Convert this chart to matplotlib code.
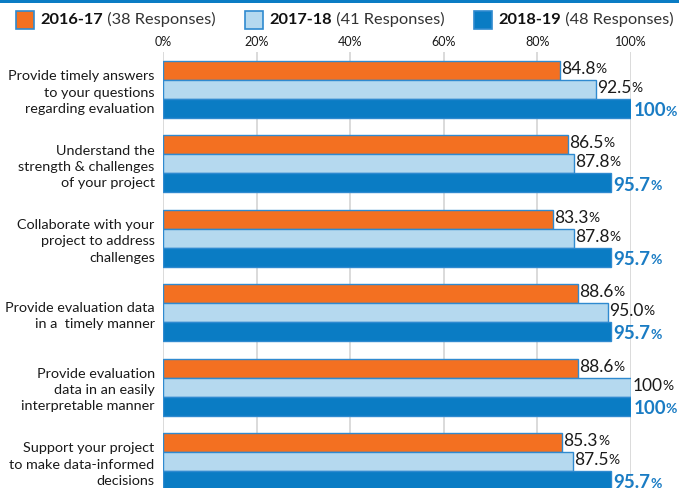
import matplotlib
matplotlib.use("Agg")
import matplotlib.pyplot as plt
from matplotlib.patches import Rectangle
import numpy as np

plt.rcParams['font.family'] = ['Lato', 'DejaVu Sans']

categories = [
    "Provide timely answers\nto your questions\nregarding evaluation",
    "Understand the\nstrength & challenges\nof your project",
    "Collaborate with your\nproject to address\nchallenges",
    "Provide evaluation data\nin a  timely manner",
    "Provide evaluation\ndata in an easily\ninterpretable manner",
    "Support your project\nto make data-informed\ndecisions",
]
years = ["2016-17", "2017-18", "2018-19"]
responses = ["(38 Responses)", "(41 Responses)", "(48 Responses)"]
vals_1617 = [84.8, 86.5, 83.3, 88.6, 88.6, 85.3]
vals_1718 = [92.5, 87.8, 87.8, 95.0, 100, 87.5]
vals_1819 = [100, 95.7, 95.7, 95.7, 100, 95.7]
xticks = [0, 20, 40, 60, 80, 100]

ORANGE = "#f37021"
LIGHT = "#b5d9ef"
DARK = "#0a7cc4"
EDGE = "#2f8ad0"
TEXT = "#1a1a1a"

W, H = 679, 488
fig = plt.figure(figsize=(W / 100, H / 100), dpi=100)

# top rule
fig.add_artist(Rectangle((0, 1 - 3 / H), 1, 3 / H, transform=fig.transFigure,
                         color=DARK, lw=0))

ax = fig.add_axes([163 / W, 0, (631 - 163) / W, (488 - 52) / H])
ax.set_xlim(0, 100)
ax.set_ylim(5.356, -0.504)

bh = 0.256
y = np.arange(len(categories))
series = [vals_1617, vals_1718, vals_1819]
fills = [ORANGE, LIGHT, DARK]
for k, (vals, c) in enumerate(zip(series, fills)):
    ax.barh(y + (k - 1) * bh, vals, height=bh, color=c,
            edgecolor=EDGE, linewidth=1.0, zorder=3)

# value labels, with a smaller % sign
for k, vals in enumerate(series):
    for i, v in enumerate(vals):
        s = "100" if v == 100 else f"{v:.1f}"
        if k == 2:
            t = ax.text(v + 0.5, y[i] + (k - 1) * bh + 0.03, s, color="#1a7cc4",
                        fontsize=13.5, fontweight="bold", va="center", ha="left",
                        clip_on=False, zorder=5)
            ax.annotate("%", xy=(1, 0.1), xycoords=t, color="#1a7cc4",
                        fontsize=10, fontweight="bold", va="bottom", ha="left",
                        annotation_clip=False)
        else:
            t = ax.text(v + 0.3, y[i] + (k - 1) * bh - 0.02, s, color=TEXT,
                        fontsize=12.5, va="center", ha="left", clip_on=False, zorder=5)
            ax.annotate("%", xy=(1, 0.12), xycoords=t, color=TEXT,
                        fontsize=10, va="bottom", ha="left", annotation_clip=False)

ax.set_yticks(y)
ax.set_yticklabels(categories, fontsize=10.4, color=TEXT, linespacing=1.42)
ax.tick_params(axis="y", length=0, pad=6)
ax.set_xticks(xticks)
ax.set_xticklabels([f"{t}%" for t in xticks], fontsize=9, color=TEXT)
ax.xaxis.tick_top()
ax.tick_params(axis="x", length=0, pad=3)
ax.grid(axis="x", color="#d4d4d4", lw=1.2, zorder=0)
for sp in ax.spines.values():
    sp.set_visible(False)

# legend
leg_x = [16, 245, 474]
for xp, yr, rs, c in zip(leg_x, years, responses, fills):
    fig.add_artist(Rectangle((xp / W, 1 - 29 / H), 18 / W, 18 / H,
                             transform=fig.transFigure, facecolor=c,
                             edgecolor=EDGE, lw=1.2))
    t = fig.text((xp + 24) / W, 1 - 20 / H, yr, fontsize=11.8,
                 fontweight="bold", color="#111111", va="center", ha="left")
    ax.annotate(" " + rs, xy=(1, 0), xycoords=t, fontsize=11.8,
                color="#333333", va="bottom", ha="left", annotation_clip=False)

fig.savefig("out.png", dpi=100)
